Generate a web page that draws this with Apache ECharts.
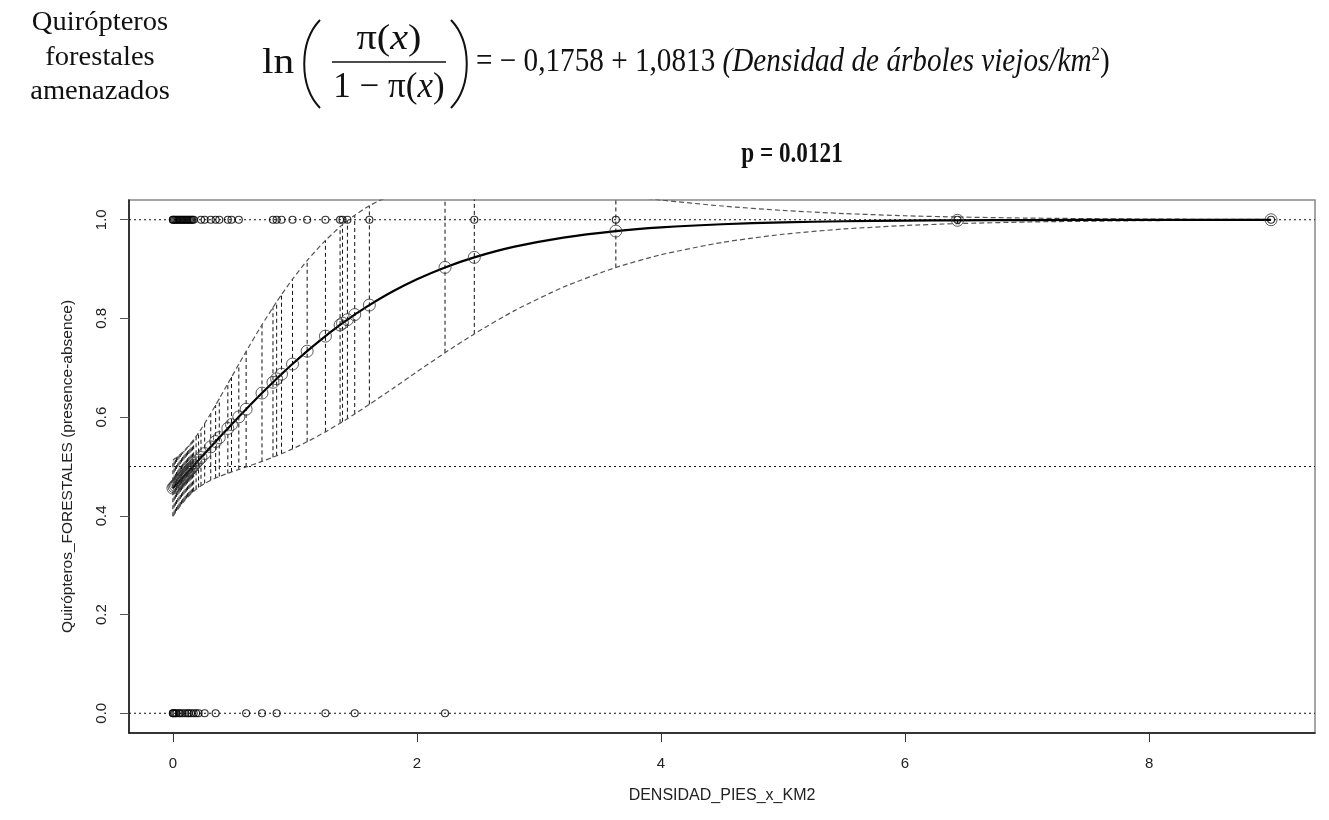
<!DOCTYPE html>
<html><head><meta charset="utf-8">
<script src="https://cdn.jsdelivr.net/npm/echarts@6/dist/echarts.min.js"></script>
<style>html,body{margin:0;padding:0;background:#fff}#c{width:1329px;height:820px}</style>
</head><body><div id="c"></div>
<script>
// observed presence (y=1) and absence (y=0) densities
const xPresence = [0,0,0.01,0.02,0.03,0.04,0.05,0.06,0.07,0.08,0.09,0.10,0.11,0.12,0.13,0.14,0.15,0.16,0.17,0.23,0.26,0.31,0.35,0.38,0.45,0.48,0.54,0.82,0.85,0.89,0.98,1.10,1.25,1.37,1.39,1.43,1.61,2.47,3.63,6.43,9.0];
const xAbsence = [0,0,0.01,0.02,0.03,0.05,0.06,0.08,0.10,0.12,0.13,0.15,0.17,0.19,0.21,0.26,0.35,0.60,0.73,0.85,1.25,1.49,2.23];

// fitted probability and band at each observed density
const fitX  = [0,0.01,0.02,0.03,0.04,0.05,0.06,0.07,0.08,0.09,0.10,0.11,0.12,0.13,0.14,0.15,0.16,0.17,0.19,0.21,0.23,0.26,0.31,0.35,0.38,0.45,0.48,0.54,0.60,0.73,0.82,0.85,0.89,0.98,1.10,1.25,1.37,1.39,1.43,1.49,1.61,2.23,2.47,3.63,6.43,9.0];
const fitP  = [0.4562,0.4588,0.4615,0.4642,0.4669,0.4696,0.4723,0.4750,0.4777,0.4804,0.4831,0.4858,0.4885,0.4912,0.4939,0.4966,0.4993,0.5020,0.5074,0.5128,0.5182,0.5263,0.5398,0.5505,0.5586,0.5771,0.5850,0.6006,0.6161,0.6488,0.6706,0.6777,0.6871,0.7076,0.7337,0.7642,0.7868,0.7904,0.7974,0.8078,0.8271,0.9034,0.9238,0.9770,0.99886,0.99993];
const fitLo = [0.3992,0.4028,0.4064,0.4099,0.4134,0.4168,0.4200,0.4233,0.4264,0.4293,0.4323,0.4350,0.4377,0.4403,0.4428,0.4452,0.4474,0.4496,0.4537,0.4575,0.4609,0.4655,0.4721,0.4766,0.4798,0.4862,0.4889,0.4939,0.4990,0.5103,0.5188,0.5218,0.5259,0.5357,0.5501,0.5702,0.5878,0.5907,0.5968,0.6064,0.6258,0.7305,0.7687,0.9033,0.99217,0.99934];
const fitHi = [0.5132,0.5148,0.5166,0.5185,0.5204,0.5224,0.5246,0.5267,0.5290,0.5315,0.5339,0.5366,0.5393,0.5421,0.5450,0.5480,0.5512,0.5544,0.5611,0.5681,0.5755,0.5871,0.6075,0.6244,0.6374,0.6680,0.6811,0.7073,0.7332,0.7873,0.8224,0.8336,0.8483,0.8795,0.9173,0.9582,0.9858,0.9901,0.9980,1.0092,1.0284,1.0763,1.0789,1.0507,1.00555,1.00051];

// extra curve points read between the sparse observations
const curveX  = [1.8,2.0,2.8,3.2,4.0,4.5,5.0,5.5,6.0,7.0,8.0];
const curveP  = [0.8545,0.8794,0.9454,0.9639,0.9845,0.9909,0.9947,0.9969,0.9982,0.99939,0.99979];
const curveLo = [0.6577,0.6919,0.8159,0.8636,0.9291,0.9540,0.9706,0.9813,0.9883,0.99544,0.99825];
const curveHi = [1.0513,1.0669,1.0749,1.0642,1.0399,1.0278,1.0188,1.0125,1.0081,1.00333,1.00133];

const xTicks = [0,2,4,6,8];
const yTicks = [0,0.2,0.4,0.6,0.8,1.0];
const refLevels = [0,0.5,1];

function merged(a, b) {
  const pts = [];
  fitX.forEach((x,i)=>pts.push([x, a[i]]));
  curveX.forEach((x,i)=>pts.push([x, b[i]]));
  pts.sort((p,q)=>p[0]-q[0]);
  return pts;
}
const segData = [];
fitX.forEach((x,i)=>{ segData.push([x, fitLo[i]], [x, fitHi[i]], [x, '-']); });
const refData = [];
refLevels.forEach(v=>{ refData.push([-0.36, v], [9.36, v], [0, '-']); });

const serif = '"Liberation Serif","Times New Roman",serif';
const sans = '"Liberation Sans",Arial,sans-serif';
const ink = '#111';
const hollow = 'rgba(0,0,0,0)';

const chart = echarts.init(document.getElementById('c'));
chart.setOption({
  animation: false,
  backgroundColor: '#fff',
  grid: { left: 129, top: 200, width: 1186, height: 533, show: true, borderColor: '#888', borderWidth: 1.5 },
  xAxis: {
    type: 'value', min: -0.36, max: 9.36,
    name: 'DENSIDAD_PIES_x_KM2', nameLocation: 'middle', nameGap: 55,
    nameTextStyle: { fontFamily: sans, fontSize: 16, color: '#222' },
    axisLine: { onZero: false, lineStyle: { color: '#111', width: 1.5 } },
    axisTick: { customValues: xTicks, length: 9, lineStyle: { color: '#333' } },
    axisLabel: { customValues: xTicks, margin: 23, fontFamily: sans, fontSize: 15, color: '#222' },
    splitLine: { show: false }
  },
  yAxis: {
    type: 'value', min: -0.04, max: 1.04,
    name: 'Quirópteros_FORESTALES (presence-absence)', nameLocation: 'middle', nameGap: 53,
    nameTextStyle: { fontFamily: sans, fontSize: 15.5, color: '#222' },
    axisLine: { onZero: false, lineStyle: { color: '#111', width: 1.5 } },
    axisTick: { customValues: yTicks, length: 9, lineStyle: { color: '#555' } },
    axisLabel: { customValues: yTicks, rotate: 90, margin: 20, fontFamily: sans, fontSize: 15, color: '#222',
                 formatter: v => Number(v).toFixed(1) },
    splitLine: { show: false }
  },
  series: [
    { type: 'line', data: refData, symbol: 'none', connectNulls: false, silent: true,
      lineStyle: { color: '#111', width: 1, type: [2, 3] }, z: 1 },
    { type: 'line', data: segData, symbol: 'none', connectNulls: false, silent: true, clip: true,
      lineStyle: { color: '#111', width: 1, type: [4, 3] }, z: 2 },
    { type: 'line', data: merged(fitHi, curveHi), symbol: 'none', smooth: 0.2, clip: true,
      lineStyle: { color: '#555', width: 1.2, type: [5, 3] }, z: 3 },
    { type: 'line', data: merged(fitLo, curveLo), symbol: 'none', smooth: 0.2, clip: true,
      lineStyle: { color: '#555', width: 1.2, type: [5, 3] }, z: 3 },
    { type: 'line', data: merged(fitP, curveP), symbol: 'none', smooth: 0.3,
      lineStyle: { color: '#000', width: 2.2 }, z: 4 },
    { type: 'scatter', data: fitX.map((x,i)=>[x, fitP[i]]), symbol: 'circle', symbolSize: 12,
      itemStyle: { color: hollow, borderColor: '#333', borderWidth: 1 }, z: 5 },
    { type: 'scatter', data: xPresence.map(x=>[x, 1]), symbol: 'circle', symbolSize: 7,
      itemStyle: { color: hollow, borderColor: '#000', borderWidth: 1.2 }, z: 6 },
    { type: 'scatter', data: xAbsence.map(x=>[x, 0]), symbol: 'circle', symbolSize: 7,
      itemStyle: { color: hollow, borderColor: '#000', borderWidth: 1.2 }, z: 6 }
  ],
  graphic: [
    { type: 'text', x: 100, y: 23, scaleX: 1.02, style: { text: 'Quirópteros', fontFamily: serif, fontSize: 28, fill: ink, align: 'center', textAlign: 'center', verticalAlign: 'middle', textVerticalAlign: 'middle' } },
    { type: 'text', x: 100, y: 58, scaleX: 1.02, style: { text: 'forestales', fontFamily: serif, fontSize: 28, fill: ink, align: 'center', textAlign: 'center', verticalAlign: 'middle', textVerticalAlign: 'middle' } },
    { type: 'text', x: 100, y: 92, scaleX: 1.02, style: { text: 'amenazados', fontFamily: serif, fontSize: 28, fill: ink, align: 'center', textAlign: 'center', verticalAlign: 'middle', textVerticalAlign: 'middle' } },
    { type: 'text', x: 262, y: 64, scaleX: 1.15, style: { text: 'ln', fontFamily: serif, fontSize: 36, fill: ink, align: 'left', textAlign: 'left', verticalAlign: 'middle', textVerticalAlign: 'middle' } },
    { type: 'bezierCurve', shape: { x1: 320, y1: 20, cpx1: 299, cpy1: 42, cpx2: 299, cpy2: 86, x2: 320, y2: 108 }, style: { stroke: ink, lineWidth: 2, fill: null } },
    { type: 'bezierCurve', shape: { x1: 451, y1: 20, cpx1: 472, cpy1: 42, cpx2: 472, cpy2: 86, x2: 451, y2: 108 }, style: { stroke: ink, lineWidth: 2, fill: null } },
    { type: 'text', x: 389, y: 40, scaleX: 1.15, style: { text: '{n|π(}{i|x}{n|)}', align: 'center', textAlign: 'center', verticalAlign: 'middle', textVerticalAlign: 'middle',
      rich: { n: { fontFamily: serif, fontSize: 35, fill: ink }, i: { fontFamily: serif, fontSize: 35, fontStyle: 'italic', fill: ink } } } },
    { type: 'line', shape: { x1: 332, y1: 62, x2: 446, y2: 62 }, style: { stroke: ink, lineWidth: 1.6 } },
    { type: 'text', x: 389, y: 88, scaleX: 1.0, style: { text: '{n|1 − π(}{i|x}{n|)}', align: 'center', textAlign: 'center', verticalAlign: 'middle', textVerticalAlign: 'middle',
      rich: { n: { fontFamily: serif, fontSize: 35, fill: ink }, i: { fontFamily: serif, fontSize: 35, fontStyle: 'italic', fill: ink } } } },
    { type: 'text', x: 476, y: 62, scaleX: 0.885, style: { text: '{n|= − 0,1758 + 1,0813 }{i|(Densidad de árboles viejos/km}{s|2}{n|)}', align: 'left', textAlign: 'left', verticalAlign: 'middle', textVerticalAlign: 'middle',
      rich: { n: { fontFamily: serif, fontSize: 33, fill: ink }, i: { fontFamily: serif, fontSize: 33, fontStyle: 'italic', fill: ink }, s: { fontFamily: serif, fontSize: 19, fill: ink, verticalAlign: 'top' } } } },
    { type: 'text', x: 792, y: 155, scaleX: 0.8, style: { text: 'p = 0.0121', fontFamily: serif, fontSize: 29, fontWeight: 'bold', fill: ink, align: 'center', textAlign: 'center', verticalAlign: 'middle', textVerticalAlign: 'middle' } }
  ]
});
</script></body></html>
